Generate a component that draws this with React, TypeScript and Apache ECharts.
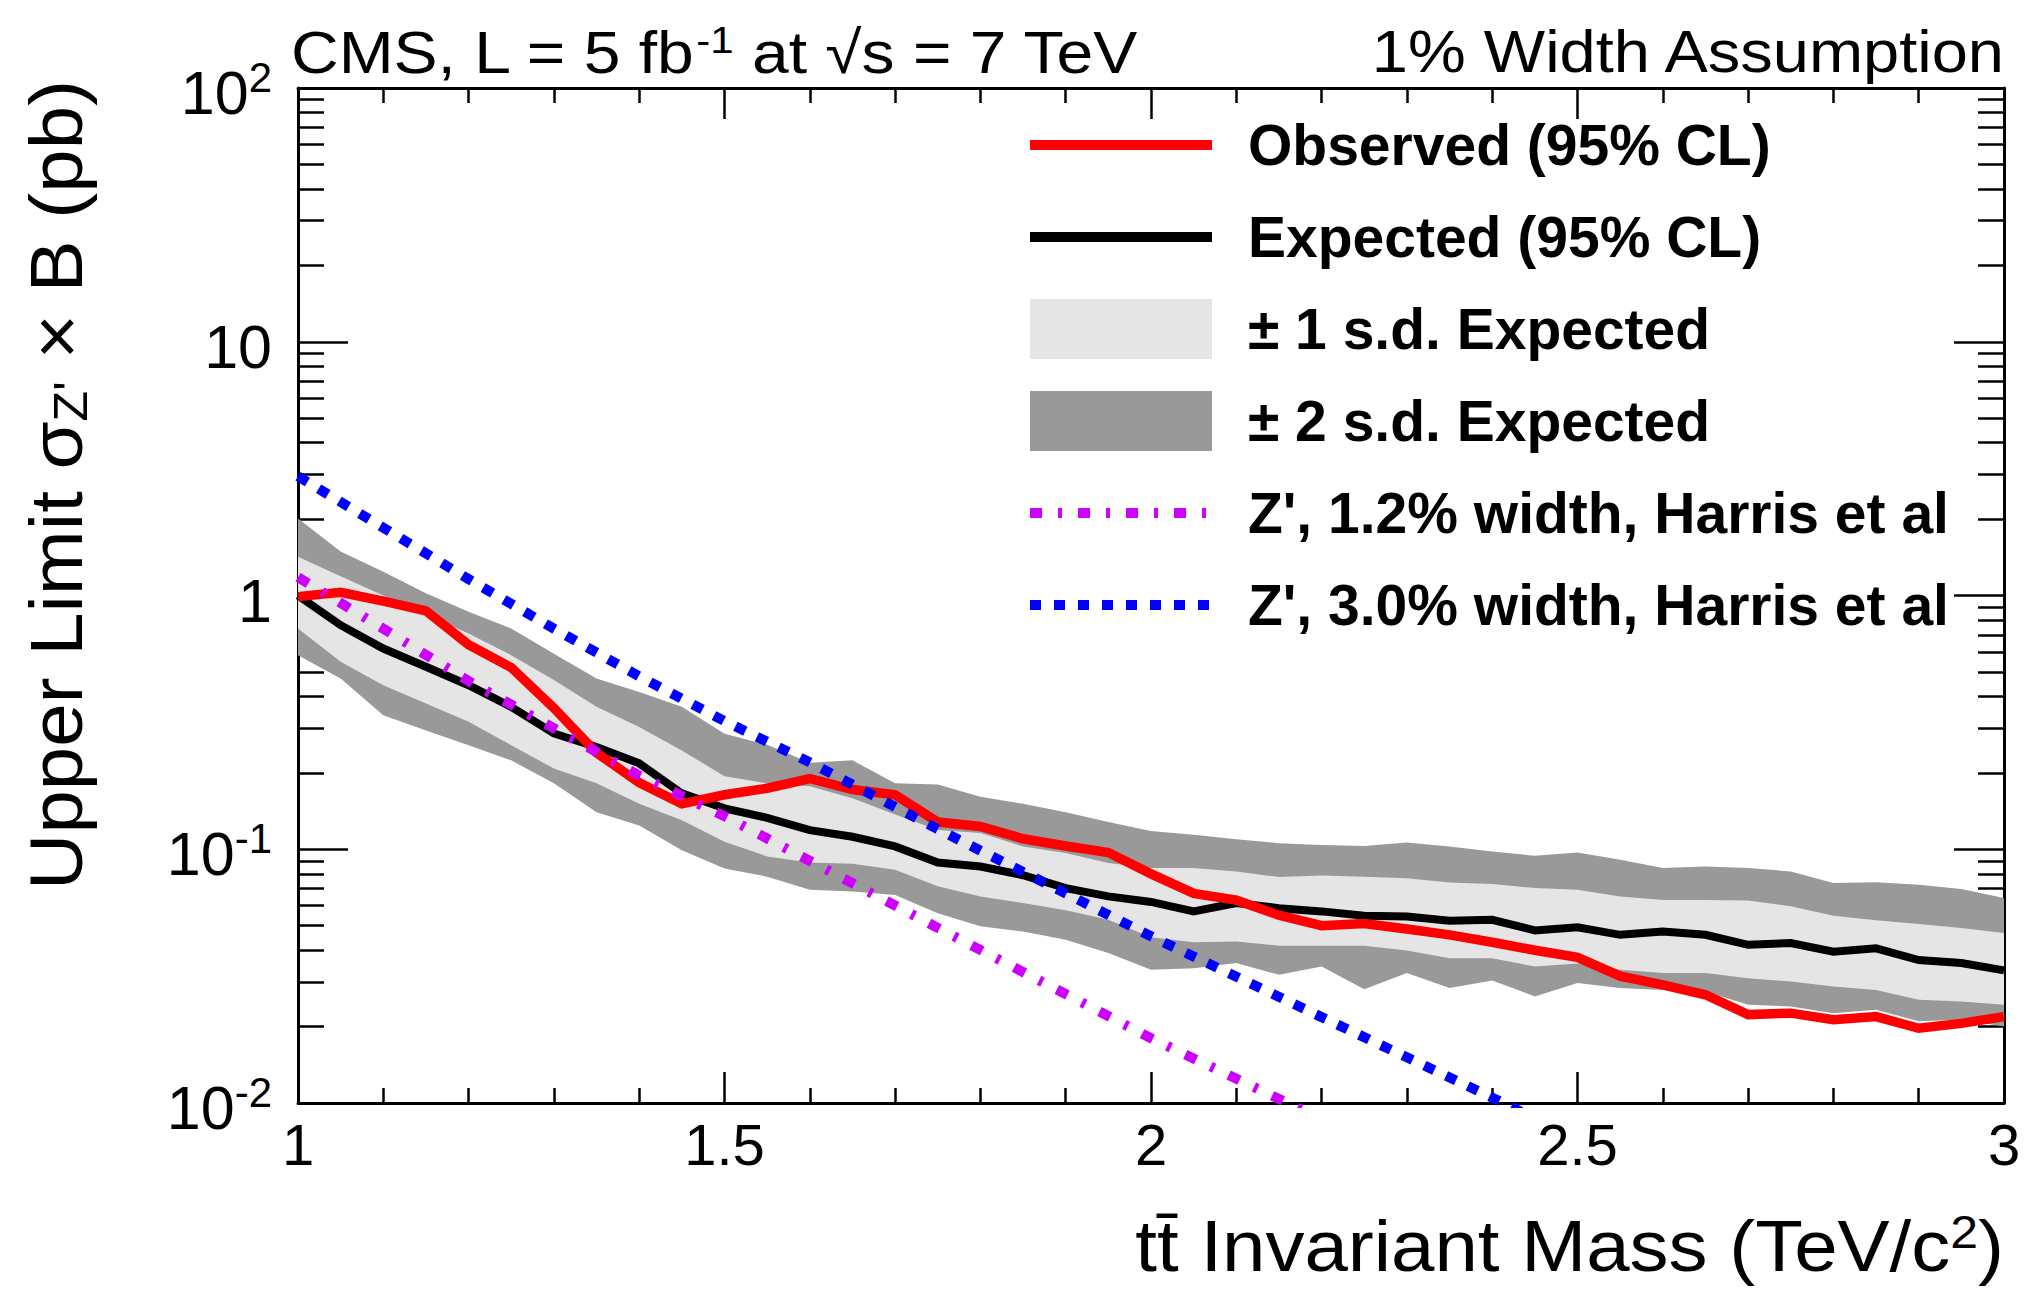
import React, { useEffect, useRef } from 'react';
import * as echarts from 'echarts';

// ---------- data ----------
const massValues = [
  1.0, 1.05, 1.1, 1.15, 1.2, 1.25, 1.3, 1.35, 1.4, 1.45,
  1.5, 1.55, 1.6, 1.65, 1.7, 1.75, 1.8, 1.85, 1.9, 1.95,
  2.0, 2.05, 2.1, 2.15, 2.2, 2.25, 2.3, 2.35, 2.4, 2.45,
  2.5, 2.55, 2.6, 2.65, 2.7, 2.75, 2.8, 2.85, 2.9, 2.95, 3.0,
];

const observedLimit = [
  0.99, 1.03, 0.95, 0.87, 0.64, 0.52, 0.36, 0.24, 0.183, 0.151,
  0.164, 0.174, 0.19, 0.172, 0.164, 0.128, 0.123, 0.11, 0.103, 0.097,
  0.08, 0.067, 0.063, 0.055, 0.05, 0.051, 0.0485, 0.046, 0.043, 0.04,
  0.0375, 0.0316, 0.0292, 0.0267, 0.0223, 0.0226, 0.0213, 0.0219, 0.0197, 0.0206, 0.0219,
];

const expectedLimit = [
  1.0, 0.764, 0.618, 0.524, 0.443, 0.364, 0.286, 0.253, 0.218, 0.166,
  0.145, 0.133, 0.119, 0.112, 0.1026, 0.0887, 0.0855, 0.079, 0.0703, 0.0652,
  0.062, 0.0569, 0.0614, 0.0586, 0.0569, 0.0547, 0.0543, 0.0523, 0.0527, 0.0479,
  0.0493, 0.046, 0.0474, 0.046, 0.042, 0.0427, 0.0395, 0.0407, 0.0366, 0.0356, 0.0333,
];

const plusTwoSigma = [
  2.01, 1.49, 1.24, 1.02, 0.863, 0.741, 0.59, 0.471, 0.417, 0.364,
  0.285, 0.258, 0.219, 0.224, 0.182, 0.18, 0.161, 0.151, 0.14, 0.128,
  0.118, 0.114, 0.1096, 0.1057, 0.104, 0.103, 0.1064, 0.1026, 0.098, 0.0943,
  0.097, 0.091, 0.0843, 0.0855, 0.0843, 0.0818, 0.0736, 0.0741, 0.0725, 0.0697, 0.0643,
];

const plusOneSigma = [
  1.42, 1.19, 1.0, 0.837, 0.708, 0.582, 0.464, 0.364, 0.303, 0.245,
  0.194, 0.182, 0.177, 0.159, 0.137, 0.119, 0.116, 0.1026, 0.0966, 0.0882,
  0.0843, 0.0843, 0.0818, 0.0777, 0.0788, 0.078, 0.0769, 0.074, 0.073, 0.0703,
  0.0692, 0.0652, 0.0631, 0.0631, 0.0628, 0.0596, 0.0547, 0.0525, 0.0508, 0.0489, 0.0468,
];

const minusOneSigma = [
  0.741, 0.548, 0.443, 0.375, 0.318, 0.257, 0.208, 0.182, 0.151, 0.13,
  0.107, 0.0937, 0.0887, 0.0877, 0.083, 0.0714, 0.0652, 0.0614, 0.0575, 0.0528,
  0.045, 0.043, 0.0433, 0.0417, 0.0417, 0.0417, 0.0399, 0.0372, 0.0372, 0.0345,
  0.0355, 0.0335, 0.0325, 0.0325, 0.031, 0.0301, 0.0288, 0.0279, 0.0255, 0.0251, 0.0244,
];

const minusTwoSigma = [
  0.582, 0.471, 0.337, 0.294, 0.257, 0.224, 0.182, 0.14, 0.124, 0.099,
  0.084, 0.078, 0.0692, 0.0682, 0.066, 0.056, 0.0497, 0.0474, 0.044, 0.039,
  0.0335, 0.034, 0.0356, 0.032, 0.0345, 0.0281, 0.0325, 0.0284, 0.0304, 0.0263,
  0.0297, 0.0284, 0.0279, 0.0275, 0.0244, 0.024, 0.0226, 0.0233, 0.021, 0.0213, 0.02,
];

const zprime12Mass = [1.0, 1.1, 1.2, 1.3, 1.4, 1.5, 1.75, 2.0, 2.16, 2.3];
const zprime12Xsec = [1.18, 0.74, 0.46, 0.3, 0.195, 0.135, 0.049, 0.018, 0.01, 0.0059];

const zprime30Mass = [1.0, 1.1, 1.2, 1.3, 1.4, 1.5, 1.6, 1.75, 2.0, 2.2, 2.4, 2.5];
const zprime30Xsec = [2.95, 1.85, 1.16, 0.74, 0.48, 0.32, 0.22, 0.12, 0.0454, 0.0218, 0.0105, 0.0072];

const legendNames = [
  'Observed (95% CL)',
  'Expected (95% CL)',
  '± 1 s.d. Expected',
  '± 2 s.d. Expected',
  "Z', 1.2% width, Harris et al",
  "Z', 3.0% width, Harris et al",
];

const FONT = "'Liberation Sans', Arial, Helvetica, sans-serif";

function bandRenderer(lower: number[], upper: number[], fill: string) {
  return (params: any, api: any) => {
    if (params.dataIndex !== 0) return null;
    const pts: number[][] = [];
    for (let i = 0; i < massValues.length; i++) pts.push(api.coord([massValues[i], upper[i]]));
    for (let i = massValues.length - 1; i >= 0; i--) pts.push(api.coord([massValues[i], lower[i]]));
    return { type: 'polygon', shape: { points: pts }, style: { fill, stroke: null } };
  };
}

function pairs(xs: number[], ys: number[]) {
  return xs.map((x, i) => [x, ys[i]]);
}

const xAxisBase = (position: 'bottom' | 'top', labels: boolean) => ({
  type: 'value',
  min: 1,
  max: 3,
  interval: 0.5,
  position,
  axisLine: { show: true, onZero: false, lineStyle: { color: '#000', width: 3 } },
  axisTick: { show: true, inside: true, length: 31, lineStyle: { color: '#000', width: 2.5 } },
  minorTick: { show: true, splitNumber: 5, length: 15, lineStyle: { color: '#000', width: 2.5 } },
  splitLine: { show: false },
  minorSplitLine: { show: false },
  axisLabel: {
    show: labels,
    fontSize: 58,
    fontFamily: FONT,
    color: '#000',
    margin: 12,
  },
});

const yAxisBase = (position: 'left' | 'right', labels: boolean) => ({
  type: 'log',
  logBase: 10,
  min: 0.01,
  max: 100,
  position,
  axisLine: { show: true, onZero: false, lineStyle: { color: '#000', width: 3 } },
  axisTick: { show: true, inside: true, length: 50, lineStyle: { color: '#000', width: 2.5 } },
  minorTick: { show: true, splitNumber: 9, length: 26, lineStyle: { color: '#000', width: 2.5 } },
  splitLine: { show: false },
  minorSplitLine: { show: false },
  axisLabel: {
    show: labels,
    margin: 26,
    formatter: (v: number) => {
      const e = Math.round(Math.log10(v));
      if (e === 0) return '{m|1}';
      if (e === 1) return '{m|10}';
      return `{m|10}{s|${e}}`;
    },
    rich: {
      m: { fontSize: 61, fontFamily: FONT, color: '#000', lineHeight: 64, padding: [10, 0, 0, 0] },
      s: { fontSize: 42, fontFamily: FONT, color: '#000', verticalAlign: 'top', lineHeight: 42 },
    },
  },
});

const lineLegendItemStyle = { color: 'rgba(0,0,0,0)', borderColor: 'rgba(0,0,0,0)', borderWidth: 0, opacity: 0 };

export default function App() {
  const ref = useRef<HTMLDivElement>(null);

  useEffect(() => {
    if (!ref.current) return;
    const chart = echarts.init(ref.current, null, { renderer: 'svg' });

    const option: any = {
      animation: false,
      backgroundColor: '#ffffff',
      grid: { left: 298, right: 26, top: 88, bottom: 186, containLabel: false, outerBoundsMode: 'none' },
      xAxis: [xAxisBase('bottom', true), xAxisBase('top', false)],
      yAxis: [yAxisBase('left', true), yAxisBase('right', false)],
      legend: {
        orient: 'vertical',
        left: 1025,
        top: 115,
        padding: 0,
        itemWidth: 182,
        itemHeight: 60,
        itemGap: 32,
        selectedMode: false,
        textStyle: {
          fontFamily: FONT,
          fontWeight: 'bold',
          fontSize: 57,
          color: '#000',
          padding: [0, 0, 0, 31],
          height: 60,
          lineHeight: 60,
        },
        data: [
          { name: legendNames[0], itemStyle: lineLegendItemStyle, lineStyle: { width: 10, color: '#ff0000' } },
          { name: legendNames[1], itemStyle: lineLegendItemStyle, lineStyle: { width: 10, color: '#000000' } },
          { name: legendNames[2], icon: 'rect' },
          { name: legendNames[3], icon: 'rect' },
          { name: legendNames[4], itemStyle: lineLegendItemStyle, lineStyle: { width: 10, color: '#cc00ff', type: [12, 16, 4, 16] } },
          { name: legendNames[5], itemStyle: lineLegendItemStyle, lineStyle: { width: 10, color: '#0000ff', type: [11, 13] } },
        ],
      },
      graphic: [
        {
          type: 'text',
          x: 291,
          y: 52,
          scaleY: 0.9,
          style: {
            text: '{a|CMS, L = 5 fb}{s|-1}{a| at √s = 7 TeV}',
            verticalAlign: 'middle',
            align: 'left',
            rich: {
              a: { fontSize: 66, fontFamily: FONT, fill: '#000', lineHeight: 70 },
              s: { fontSize: 42, fontFamily: FONT, fill: '#000', verticalAlign: 'top', lineHeight: 42 },
            },
          },
        },
        {
          type: 'text',
          x: 2004,
          y: 52,
          scaleY: 0.9,
          style: {
            text: '1% Width Assumption',
            align: 'right',
            verticalAlign: 'middle',
            fontSize: 65,
            fontFamily: FONT,
            fill: '#000',
          },
        },
        {
          type: 'text',
          x: 2004,
          y: 1246,
          scaleY: 0.92,
          style: {
            text: '{a|tt̄ Invariant Mass (TeV/c}{s|2}{a|)}',
            align: 'right',
            verticalAlign: 'middle',
            rich: {
              a: { fontSize: 78, fontFamily: FONT, fill: '#000', lineHeight: 80 },
              s: { fontSize: 50, fontFamily: FONT, fill: '#000', verticalAlign: 'top', lineHeight: 50 },
            },
          },
        },
        {
          type: 'text',
          x: 56,
          y: 80,
          rotation: Math.PI / 2,
          scaleY: 0.95,
          style: {
            text: "{a|Upper Limit σ}{b|Z'}{a| × B (pb)}",
            align: 'right',
            verticalAlign: 'middle',
            rich: {
              a: { fontSize: 78, fontFamily: FONT, fill: '#000', lineHeight: 80 },
              b: { fontSize: 50, fontFamily: FONT, fill: '#000', verticalAlign: 'bottom', lineHeight: 64 },
            },
          },
        },
      ],
      series: [
        {
          type: 'custom',
          name: legendNames[3],
          xAxisIndex: 0,
          yAxisIndex: 0,
          itemStyle: { color: '#999999' },
          clip: true,
          renderItem: bandRenderer(minusTwoSigma, plusTwoSigma, '#999999'),
          data: massValues.map((m, i) => [m, minusTwoSigma[i], plusTwoSigma[i]]),
          encode: { x: 0, y: [1, 2] },
          z: 1,
        },
        {
          type: 'custom',
          name: legendNames[2],
          xAxisIndex: 0,
          yAxisIndex: 0,
          itemStyle: { color: '#e5e5e5' },
          clip: true,
          renderItem: bandRenderer(minusOneSigma, plusOneSigma, '#e5e5e5'),
          data: massValues.map((m, i) => [m, minusOneSigma[i], plusOneSigma[i]]),
          encode: { x: 0, y: [1, 2] },
          z: 1,
        },
        {
          type: 'line',
          name: legendNames[1],
          data: pairs(massValues, expectedLimit),
          symbol: 'none',
          showSymbol: false,
          clip: true,
          itemStyle: { color: '#000000' },
          lineStyle: { color: '#000000', width: 8, join: 'miter' },
          z: 3,
        },
        {
          type: 'line',
          name: legendNames[0],
          data: pairs(massValues, observedLimit),
          symbol: 'none',
          showSymbol: false,
          clip: true,
          itemStyle: { color: '#ff0000' },
          lineStyle: { color: '#ff0000', width: 9.5, join: 'miter' },
          z: 4,
        },
        {
          type: 'line',
          name: legendNames[4],
          data: pairs(zprime12Mass, zprime12Xsec),
          symbol: 'none',
          showSymbol: false,
          clip: true,
          itemStyle: { color: '#cc00ff' },
          lineStyle: { color: '#cc00ff', width: 10, type: [12, 16, 4, 16], cap: 'butt' },
          z: 5,
        },
        {
          type: 'line',
          name: legendNames[5],
          data: pairs(zprime30Mass, zprime30Xsec),
          symbol: 'none',
          showSymbol: false,
          clip: true,
          itemStyle: { color: '#0000ff' },
          lineStyle: { color: '#0000ff', width: 10, type: [11, 13], cap: 'butt' },
          z: 5,
        },
      ],
    };

    chart.setOption(option);
    return () => chart.dispose();
  }, []);

  return (
    <div
      ref={ref}
      style={{ position: 'absolute', left: 0, top: 0, width: 2030, height: 1289, background: '#fff' }}
    />
  );
}
